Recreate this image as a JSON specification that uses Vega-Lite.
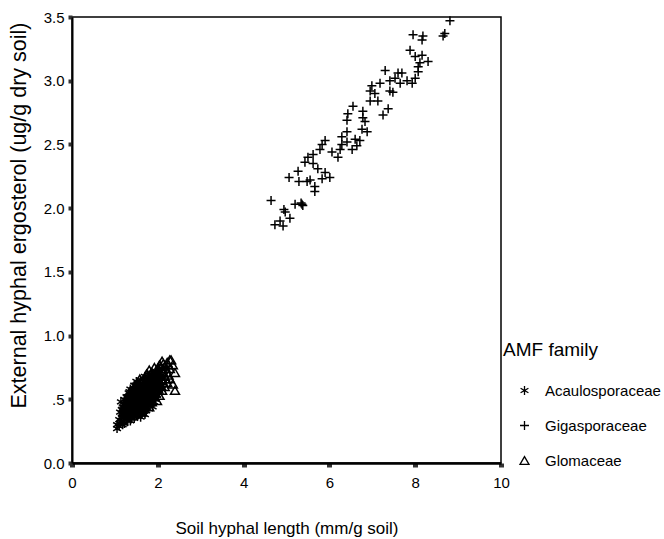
{
  "$schema": "https://vega.github.io/schema/vega-lite/v6.json",
  "autosize": {"type": "none"},
  "padding": {"left": 72, "top": 17, "right": 163, "bottom": 76},
  "width": 429,
  "height": 446,
  "background": "white",
  "config": {
    "font": "Liberation Sans",
    "view": {"stroke": "black", "strokeWidth": 1.5},
    "axis": {"grid": false, "labelFont": "Liberation Sans", "titleFont": "Liberation Sans", "labelFontSize": 15, "titleFontSize": 17, "titleFontWeight": "normal", "labelColor": "black", "titleColor": "black", "domainColor": "black", "tickColor": "#333"}
  },
  "datasets": {
    "pts": [
      {"family": "Gigasporaceae", "length": 4.64, "ergosterol": 2.06},
      {"family": "Gigasporaceae", "length": 4.94, "ergosterol": 1.99},
      {"family": "Gigasporaceae", "length": 4.97, "ergosterol": 1.97},
      {"family": "Gigasporaceae", "length": 5.08, "ergosterol": 1.92},
      {"family": "Gigasporaceae", "length": 4.73, "ergosterol": 1.87},
      {"family": "Gigasporaceae", "length": 4.85, "ergosterol": 1.9},
      {"family": "Gigasporaceae", "length": 4.92, "ergosterol": 1.86},
      {"family": "Gigasporaceae", "length": 5.36, "ergosterol": 2.03},
      {"family": "Gigasporaceae", "length": 5.38, "ergosterol": 2.02},
      {"family": "Gigasporaceae", "length": 5.34, "ergosterol": 2.04},
      {"family": "Gigasporaceae", "length": 5.06, "ergosterol": 2.24},
      {"family": "Gigasporaceae", "length": 5.27, "ergosterol": 2.29},
      {"family": "Gigasporaceae", "length": 5.29, "ergosterol": 2.21},
      {"family": "Gigasporaceae", "length": 5.48, "ergosterol": 2.21},
      {"family": "Gigasporaceae", "length": 5.55, "ergosterol": 2.22},
      {"family": "Gigasporaceae", "length": 5.66, "ergosterol": 2.17},
      {"family": "Gigasporaceae", "length": 5.66, "ergosterol": 2.13},
      {"family": "Gigasporaceae", "length": 5.83, "ergosterol": 2.23},
      {"family": "Gigasporaceae", "length": 5.9, "ergosterol": 2.28},
      {"family": "Gigasporaceae", "length": 6.01, "ergosterol": 2.24},
      {"family": "Gigasporaceae", "length": 5.43, "ergosterol": 2.36},
      {"family": "Gigasporaceae", "length": 5.5, "ergosterol": 2.4},
      {"family": "Gigasporaceae", "length": 5.62, "ergosterol": 2.42},
      {"family": "Gigasporaceae", "length": 5.62, "ergosterol": 2.35},
      {"family": "Gigasporaceae", "length": 5.78, "ergosterol": 2.46},
      {"family": "Gigasporaceae", "length": 5.83, "ergosterol": 2.5},
      {"family": "Gigasporaceae", "length": 6.06, "ergosterol": 2.44},
      {"family": "Gigasporaceae", "length": 6.2, "ergosterol": 2.4},
      {"family": "Gigasporaceae", "length": 6.29, "ergosterol": 2.5},
      {"family": "Gigasporaceae", "length": 6.41, "ergosterol": 2.52},
      {"family": "Gigasporaceae", "length": 6.53, "ergosterol": 2.46},
      {"family": "Gigasporaceae", "length": 6.64, "ergosterol": 2.49},
      {"family": "Gigasporaceae", "length": 6.71, "ergosterol": 2.53},
      {"family": "Gigasporaceae", "length": 5.9, "ergosterol": 2.53},
      {"family": "Gigasporaceae", "length": 6.29, "ergosterol": 2.56},
      {"family": "Gigasporaceae", "length": 6.41, "ergosterol": 2.6},
      {"family": "Gigasporaceae", "length": 6.76, "ergosterol": 2.62},
      {"family": "Gigasporaceae", "length": 6.88, "ergosterol": 2.6},
      {"family": "Gigasporaceae", "length": 6.83, "ergosterol": 2.68},
      {"family": "Gigasporaceae", "length": 6.41, "ergosterol": 2.69},
      {"family": "Gigasporaceae", "length": 6.43, "ergosterol": 2.74},
      {"family": "Gigasporaceae", "length": 6.55, "ergosterol": 2.8},
      {"family": "Gigasporaceae", "length": 6.78, "ergosterol": 2.76},
      {"family": "Gigasporaceae", "length": 6.95, "ergosterol": 2.84},
      {"family": "Gigasporaceae", "length": 7.13, "ergosterol": 2.84},
      {"family": "Gigasporaceae", "length": 7.37, "ergosterol": 2.78},
      {"family": "Gigasporaceae", "length": 7.25, "ergosterol": 2.73},
      {"family": "Gigasporaceae", "length": 6.95, "ergosterol": 2.92},
      {"family": "Gigasporaceae", "length": 6.99, "ergosterol": 2.96},
      {"family": "Gigasporaceae", "length": 7.18, "ergosterol": 2.98},
      {"family": "Gigasporaceae", "length": 7.41, "ergosterol": 2.92},
      {"family": "Gigasporaceae", "length": 7.41, "ergosterol": 3.0},
      {"family": "Gigasporaceae", "length": 7.65, "ergosterol": 2.98},
      {"family": "Gigasporaceae", "length": 7.81, "ergosterol": 3.0},
      {"family": "Gigasporaceae", "length": 7.3, "ergosterol": 3.08},
      {"family": "Gigasporaceae", "length": 7.6, "ergosterol": 3.06},
      {"family": "Gigasporaceae", "length": 7.93, "ergosterol": 2.98},
      {"family": "Gigasporaceae", "length": 8.0, "ergosterol": 3.02},
      {"family": "Gigasporaceae", "length": 8.07, "ergosterol": 3.07},
      {"family": "Gigasporaceae", "length": 8.07, "ergosterol": 3.11},
      {"family": "Gigasporaceae", "length": 8.0, "ergosterol": 3.19},
      {"family": "Gigasporaceae", "length": 8.16, "ergosterol": 3.2},
      {"family": "Gigasporaceae", "length": 8.3, "ergosterol": 3.15},
      {"family": "Gigasporaceae", "length": 7.88, "ergosterol": 3.24},
      {"family": "Gigasporaceae", "length": 7.48, "ergosterol": 2.91},
      {"family": "Gigasporaceae", "length": 6.78, "ergosterol": 2.71},
      {"family": "Gigasporaceae", "length": 8.81, "ergosterol": 3.47},
      {"family": "Gigasporaceae", "length": 8.69, "ergosterol": 3.37},
      {"family": "Gigasporaceae", "length": 8.65, "ergosterol": 3.35},
      {"family": "Gigasporaceae", "length": 7.95, "ergosterol": 3.36},
      {"family": "Gigasporaceae", "length": 8.18, "ergosterol": 3.35},
      {"family": "Gigasporaceae", "length": 8.16, "ergosterol": 3.32},
      {"family": "Gigasporaceae", "length": 7.69, "ergosterol": 3.06},
      {"family": "Gigasporaceae", "length": 6.25, "ergosterol": 2.46},
      {"family": "Gigasporaceae", "length": 6.6, "ergosterol": 2.54},
      {"family": "Gigasporaceae", "length": 5.73, "ergosterol": 2.31},
      {"family": "Gigasporaceae", "length": 5.2, "ergosterol": 2.03},
      {"family": "Gigasporaceae", "length": 7.06, "ergosterol": 2.9},
      {"family": "Gigasporaceae", "length": 7.53, "ergosterol": 3.02},
      {"family": "Gigasporaceae", "length": 8.11, "ergosterol": 3.14},

      {"family": "Acaulosporaceae", "length": 1.05, "ergosterol": 0.27},
      {"family": "Acaulosporaceae", "length": 1.05, "ergosterol": 0.3},
      {"family": "Acaulosporaceae", "length": 1.1, "ergosterol": 0.29},
      {"family": "Acaulosporaceae", "length": 1.1, "ergosterol": 0.34},
      {"family": "Acaulosporaceae", "length": 1.14, "ergosterol": 0.48},
      {"family": "Acaulosporaceae", "length": 1.14, "ergosterol": 0.33},
      {"family": "Acaulosporaceae", "length": 1.18, "ergosterol": 0.3},
      {"family": "Acaulosporaceae", "length": 1.18, "ergosterol": 0.38},
      {"family": "Acaulosporaceae", "length": 1.18, "ergosterol": 0.44},
      {"family": "Acaulosporaceae", "length": 1.22, "ergosterol": 0.36},
      {"family": "Acaulosporaceae", "length": 1.22, "ergosterol": 0.42},
      {"family": "Acaulosporaceae", "length": 1.22, "ergosterol": 0.5},
      {"family": "Acaulosporaceae", "length": 1.22, "ergosterol": 0.31},
      {"family": "Acaulosporaceae", "length": 1.27, "ergosterol": 0.34},
      {"family": "Acaulosporaceae", "length": 1.27, "ergosterol": 0.4},
      {"family": "Acaulosporaceae", "length": 1.27, "ergosterol": 0.46},
      {"family": "Acaulosporaceae", "length": 1.27, "ergosterol": 0.52},
      {"family": "Acaulosporaceae", "length": 1.32, "ergosterol": 0.36},
      {"family": "Acaulosporaceae", "length": 1.32, "ergosterol": 0.43},
      {"family": "Acaulosporaceae", "length": 1.32, "ergosterol": 0.49},
      {"family": "Acaulosporaceae", "length": 1.32, "ergosterol": 0.55},
      {"family": "Acaulosporaceae", "length": 1.36, "ergosterol": 0.33},
      {"family": "Acaulosporaceae", "length": 1.36, "ergosterol": 0.4},
      {"family": "Acaulosporaceae", "length": 1.36, "ergosterol": 0.47},
      {"family": "Acaulosporaceae", "length": 1.36, "ergosterol": 0.53},
      {"family": "Acaulosporaceae", "length": 1.36, "ergosterol": 0.58},
      {"family": "Acaulosporaceae", "length": 1.41, "ergosterol": 0.38},
      {"family": "Acaulosporaceae", "length": 1.41, "ergosterol": 0.45},
      {"family": "Acaulosporaceae", "length": 1.41, "ergosterol": 0.51},
      {"family": "Acaulosporaceae", "length": 1.41, "ergosterol": 0.57},
      {"family": "Acaulosporaceae", "length": 1.45, "ergosterol": 0.35},
      {"family": "Acaulosporaceae", "length": 1.45, "ergosterol": 0.42},
      {"family": "Acaulosporaceae", "length": 1.45, "ergosterol": 0.48},
      {"family": "Acaulosporaceae", "length": 1.45, "ergosterol": 0.55},
      {"family": "Acaulosporaceae", "length": 1.45, "ergosterol": 0.61},
      {"family": "Acaulosporaceae", "length": 1.5, "ergosterol": 0.37},
      {"family": "Acaulosporaceae", "length": 1.5, "ergosterol": 0.44},
      {"family": "Acaulosporaceae", "length": 1.5, "ergosterol": 0.51},
      {"family": "Acaulosporaceae", "length": 1.5, "ergosterol": 0.58},
      {"family": "Acaulosporaceae", "length": 1.5, "ergosterol": 0.64},
      {"family": "Acaulosporaceae", "length": 1.55, "ergosterol": 0.4},
      {"family": "Acaulosporaceae", "length": 1.55, "ergosterol": 0.47},
      {"family": "Acaulosporaceae", "length": 1.55, "ergosterol": 0.54},
      {"family": "Acaulosporaceae", "length": 1.55, "ergosterol": 0.61},
      {"family": "Acaulosporaceae", "length": 1.6, "ergosterol": 0.36},
      {"family": "Acaulosporaceae", "length": 1.6, "ergosterol": 0.43},
      {"family": "Acaulosporaceae", "length": 1.6, "ergosterol": 0.5},
      {"family": "Acaulosporaceae", "length": 1.6, "ergosterol": 0.57},
      {"family": "Acaulosporaceae", "length": 1.6, "ergosterol": 0.65},
      {"family": "Acaulosporaceae", "length": 1.65, "ergosterol": 0.41},
      {"family": "Acaulosporaceae", "length": 1.65, "ergosterol": 0.48},
      {"family": "Acaulosporaceae", "length": 1.65, "ergosterol": 0.55},
      {"family": "Acaulosporaceae", "length": 1.65, "ergosterol": 0.62},
      {"family": "Acaulosporaceae", "length": 1.7, "ergosterol": 0.38},
      {"family": "Acaulosporaceae", "length": 1.7, "ergosterol": 0.45},
      {"family": "Acaulosporaceae", "length": 1.7, "ergosterol": 0.52},
      {"family": "Acaulosporaceae", "length": 1.7, "ergosterol": 0.6},
      {"family": "Acaulosporaceae", "length": 1.7, "ergosterol": 0.68},
      {"family": "Acaulosporaceae", "length": 1.76, "ergosterol": 0.43},
      {"family": "Acaulosporaceae", "length": 1.76, "ergosterol": 0.5},
      {"family": "Acaulosporaceae", "length": 1.76, "ergosterol": 0.57},
      {"family": "Acaulosporaceae", "length": 1.76, "ergosterol": 0.64},
      {"family": "Acaulosporaceae", "length": 1.82, "ergosterol": 0.47},
      {"family": "Acaulosporaceae", "length": 1.82, "ergosterol": 0.54},
      {"family": "Acaulosporaceae", "length": 1.82, "ergosterol": 0.61},
      {"family": "Acaulosporaceae", "length": 1.82, "ergosterol": 0.69},
      {"family": "Acaulosporaceae", "length": 1.88, "ergosterol": 0.44},
      {"family": "Acaulosporaceae", "length": 1.88, "ergosterol": 0.52},
      {"family": "Acaulosporaceae", "length": 1.88, "ergosterol": 0.59},
      {"family": "Acaulosporaceae", "length": 1.88, "ergosterol": 0.66},
      {"family": "Acaulosporaceae", "length": 1.95, "ergosterol": 0.5},
      {"family": "Acaulosporaceae", "length": 1.95, "ergosterol": 0.57},
      {"family": "Acaulosporaceae", "length": 1.95, "ergosterol": 0.64},
      {"family": "Acaulosporaceae", "length": 1.95, "ergosterol": 0.72},
      {"family": "Acaulosporaceae", "length": 2.02, "ergosterol": 0.55},
      {"family": "Acaulosporaceae", "length": 2.02, "ergosterol": 0.62},
      {"family": "Acaulosporaceae", "length": 2.02, "ergosterol": 0.7},
      {"family": "Acaulosporaceae", "length": 2.1, "ergosterol": 0.58},
      {"family": "Acaulosporaceae", "length": 2.1, "ergosterol": 0.66},
      {"family": "Acaulosporaceae", "length": 2.1, "ergosterol": 0.74},
      {"family": "Acaulosporaceae", "length": 1.12, "ergosterol": 0.31},
      {"family": "Acaulosporaceae", "length": 1.12, "ergosterol": 0.4},
      {"family": "Acaulosporaceae", "length": 1.16, "ergosterol": 0.36},
      {"family": "Acaulosporaceae", "length": 1.16, "ergosterol": 0.42},
      {"family": "Acaulosporaceae", "length": 1.2, "ergosterol": 0.33},
      {"family": "Acaulosporaceae", "length": 1.2, "ergosterol": 0.39},
      {"family": "Acaulosporaceae", "length": 1.2, "ergosterol": 0.46},
      {"family": "Acaulosporaceae", "length": 1.25, "ergosterol": 0.37},
      {"family": "Acaulosporaceae", "length": 1.25, "ergosterol": 0.43},
      {"family": "Acaulosporaceae", "length": 1.25, "ergosterol": 0.49},
      {"family": "Acaulosporaceae", "length": 1.3, "ergosterol": 0.33},
      {"family": "Acaulosporaceae", "length": 1.3, "ergosterol": 0.39},
      {"family": "Acaulosporaceae", "length": 1.3, "ergosterol": 0.46},
      {"family": "Acaulosporaceae", "length": 1.3, "ergosterol": 0.52},
      {"family": "Acaulosporaceae", "length": 1.34, "ergosterol": 0.37},
      {"family": "Acaulosporaceae", "length": 1.34, "ergosterol": 0.44},
      {"family": "Acaulosporaceae", "length": 1.34, "ergosterol": 0.5},
      {"family": "Acaulosporaceae", "length": 1.34, "ergosterol": 0.56},
      {"family": "Acaulosporaceae", "length": 1.39, "ergosterol": 0.35},
      {"family": "Acaulosporaceae", "length": 1.39, "ergosterol": 0.42},
      {"family": "Acaulosporaceae", "length": 1.39, "ergosterol": 0.48},
      {"family": "Acaulosporaceae", "length": 1.39, "ergosterol": 0.54},
      {"family": "Acaulosporaceae", "length": 1.43, "ergosterol": 0.39},
      {"family": "Acaulosporaceae", "length": 1.43, "ergosterol": 0.45},
      {"family": "Acaulosporaceae", "length": 1.43, "ergosterol": 0.52},
      {"family": "Acaulosporaceae", "length": 1.43, "ergosterol": 0.58},
      {"family": "Acaulosporaceae", "length": 1.48, "ergosterol": 0.4},
      {"family": "Acaulosporaceae", "length": 1.48, "ergosterol": 0.47},
      {"family": "Acaulosporaceae", "length": 1.48, "ergosterol": 0.54},
      {"family": "Acaulosporaceae", "length": 1.48, "ergosterol": 0.61},
      {"family": "Acaulosporaceae", "length": 1.53, "ergosterol": 0.37},
      {"family": "Acaulosporaceae", "length": 1.53, "ergosterol": 0.44},
      {"family": "Acaulosporaceae", "length": 1.53, "ergosterol": 0.51},
      {"family": "Acaulosporaceae", "length": 1.53, "ergosterol": 0.58},
      {"family": "Acaulosporaceae", "length": 1.58, "ergosterol": 0.4},
      {"family": "Acaulosporaceae", "length": 1.58, "ergosterol": 0.47},
      {"family": "Acaulosporaceae", "length": 1.58, "ergosterol": 0.54},
      {"family": "Acaulosporaceae", "length": 1.58, "ergosterol": 0.61},
      {"family": "Acaulosporaceae", "length": 1.63, "ergosterol": 0.38},
      {"family": "Acaulosporaceae", "length": 1.63, "ergosterol": 0.45},
      {"family": "Acaulosporaceae", "length": 1.63, "ergosterol": 0.52},
      {"family": "Acaulosporaceae", "length": 1.63, "ergosterol": 0.59},
      {"family": "Acaulosporaceae", "length": 1.68, "ergosterol": 0.42},
      {"family": "Acaulosporaceae", "length": 1.68, "ergosterol": 0.49},
      {"family": "Acaulosporaceae", "length": 1.68, "ergosterol": 0.56},
      {"family": "Acaulosporaceae", "length": 1.68, "ergosterol": 0.64},
      {"family": "Acaulosporaceae", "length": 1.73, "ergosterol": 0.41},
      {"family": "Acaulosporaceae", "length": 1.73, "ergosterol": 0.48},
      {"family": "Acaulosporaceae", "length": 1.73, "ergosterol": 0.55},
      {"family": "Acaulosporaceae", "length": 1.73, "ergosterol": 0.62},
      {"family": "Acaulosporaceae", "length": 1.79, "ergosterol": 0.45},
      {"family": "Acaulosporaceae", "length": 1.79, "ergosterol": 0.52},
      {"family": "Acaulosporaceae", "length": 1.79, "ergosterol": 0.59},
      {"family": "Acaulosporaceae", "length": 1.79, "ergosterol": 0.66},
      {"family": "Acaulosporaceae", "length": 1.85, "ergosterol": 0.49},
      {"family": "Acaulosporaceae", "length": 1.85, "ergosterol": 0.56},
      {"family": "Acaulosporaceae", "length": 1.85, "ergosterol": 0.63},
      {"family": "Acaulosporaceae", "length": 1.91, "ergosterol": 0.48},
      {"family": "Acaulosporaceae", "length": 1.91, "ergosterol": 0.55},
      {"family": "Acaulosporaceae", "length": 1.91, "ergosterol": 0.62},
      {"family": "Acaulosporaceae", "length": 1.91, "ergosterol": 0.69},
      {"family": "Acaulosporaceae", "length": 1.98, "ergosterol": 0.53},
      {"family": "Acaulosporaceae", "length": 1.98, "ergosterol": 0.6},
      {"family": "Acaulosporaceae", "length": 1.98, "ergosterol": 0.67},
      {"family": "Acaulosporaceae", "length": 2.06, "ergosterol": 0.6},
      {"family": "Acaulosporaceae", "length": 2.06, "ergosterol": 0.68},

      {"family": "Glomaceae", "length": 1.2, "ergosterol": 0.4},
      {"family": "Glomaceae", "length": 1.25, "ergosterol": 0.38},
      {"family": "Glomaceae", "length": 1.25, "ergosterol": 0.45},
      {"family": "Glomaceae", "length": 1.3, "ergosterol": 0.41},
      {"family": "Glomaceae", "length": 1.3, "ergosterol": 0.48},
      {"family": "Glomaceae", "length": 1.35, "ergosterol": 0.37},
      {"family": "Glomaceae", "length": 1.35, "ergosterol": 0.45},
      {"family": "Glomaceae", "length": 1.35, "ergosterol": 0.52},
      {"family": "Glomaceae", "length": 1.4, "ergosterol": 0.42},
      {"family": "Glomaceae", "length": 1.4, "ergosterol": 0.49},
      {"family": "Glomaceae", "length": 1.4, "ergosterol": 0.56},
      {"family": "Glomaceae", "length": 1.46, "ergosterol": 0.39},
      {"family": "Glomaceae", "length": 1.46, "ergosterol": 0.46},
      {"family": "Glomaceae", "length": 1.46, "ergosterol": 0.53},
      {"family": "Glomaceae", "length": 1.46, "ergosterol": 0.59},
      {"family": "Glomaceae", "length": 1.52, "ergosterol": 0.41},
      {"family": "Glomaceae", "length": 1.52, "ergosterol": 0.49},
      {"family": "Glomaceae", "length": 1.52, "ergosterol": 0.56},
      {"family": "Glomaceae", "length": 1.52, "ergosterol": 0.62},
      {"family": "Glomaceae", "length": 1.58, "ergosterol": 0.45},
      {"family": "Glomaceae", "length": 1.58, "ergosterol": 0.52},
      {"family": "Glomaceae", "length": 1.58, "ergosterol": 0.59},
      {"family": "Glomaceae", "length": 1.58, "ergosterol": 0.66},
      {"family": "Glomaceae", "length": 1.63, "ergosterol": 0.4},
      {"family": "Glomaceae", "length": 1.63, "ergosterol": 0.48},
      {"family": "Glomaceae", "length": 1.63, "ergosterol": 0.55},
      {"family": "Glomaceae", "length": 1.63, "ergosterol": 0.63},
      {"family": "Glomaceae", "length": 1.68, "ergosterol": 0.44},
      {"family": "Glomaceae", "length": 1.68, "ergosterol": 0.51},
      {"family": "Glomaceae", "length": 1.68, "ergosterol": 0.58},
      {"family": "Glomaceae", "length": 1.68, "ergosterol": 0.66},
      {"family": "Glomaceae", "length": 1.74, "ergosterol": 0.47},
      {"family": "Glomaceae", "length": 1.74, "ergosterol": 0.55},
      {"family": "Glomaceae", "length": 1.74, "ergosterol": 0.62},
      {"family": "Glomaceae", "length": 1.74, "ergosterol": 0.7},
      {"family": "Glomaceae", "length": 1.8, "ergosterol": 0.44},
      {"family": "Glomaceae", "length": 1.8, "ergosterol": 0.51},
      {"family": "Glomaceae", "length": 1.8, "ergosterol": 0.58},
      {"family": "Glomaceae", "length": 1.8, "ergosterol": 0.66},
      {"family": "Glomaceae", "length": 1.8, "ergosterol": 0.73},
      {"family": "Glomaceae", "length": 1.86, "ergosterol": 0.48},
      {"family": "Glomaceae", "length": 1.86, "ergosterol": 0.56},
      {"family": "Glomaceae", "length": 1.86, "ergosterol": 0.63},
      {"family": "Glomaceae", "length": 1.86, "ergosterol": 0.71},
      {"family": "Glomaceae", "length": 1.92, "ergosterol": 0.52},
      {"family": "Glomaceae", "length": 1.92, "ergosterol": 0.6},
      {"family": "Glomaceae", "length": 1.92, "ergosterol": 0.67},
      {"family": "Glomaceae", "length": 1.92, "ergosterol": 0.75},
      {"family": "Glomaceae", "length": 1.98, "ergosterol": 0.49},
      {"family": "Glomaceae", "length": 1.98, "ergosterol": 0.57},
      {"family": "Glomaceae", "length": 1.98, "ergosterol": 0.64},
      {"family": "Glomaceae", "length": 1.98, "ergosterol": 0.72},
      {"family": "Glomaceae", "length": 2.04, "ergosterol": 0.53},
      {"family": "Glomaceae", "length": 2.04, "ergosterol": 0.61},
      {"family": "Glomaceae", "length": 2.04, "ergosterol": 0.69},
      {"family": "Glomaceae", "length": 2.04, "ergosterol": 0.77},
      {"family": "Glomaceae", "length": 2.1, "ergosterol": 0.57},
      {"family": "Glomaceae", "length": 2.1, "ergosterol": 0.65},
      {"family": "Glomaceae", "length": 2.1, "ergosterol": 0.72},
      {"family": "Glomaceae", "length": 2.1, "ergosterol": 0.8},
      {"family": "Glomaceae", "length": 2.16, "ergosterol": 0.6},
      {"family": "Glomaceae", "length": 2.16, "ergosterol": 0.68},
      {"family": "Glomaceae", "length": 2.16, "ergosterol": 0.76},
      {"family": "Glomaceae", "length": 2.22, "ergosterol": 0.63},
      {"family": "Glomaceae", "length": 2.22, "ergosterol": 0.71},
      {"family": "Glomaceae", "length": 2.22, "ergosterol": 0.79},
      {"family": "Glomaceae", "length": 2.28, "ergosterol": 0.66},
      {"family": "Glomaceae", "length": 2.28, "ergosterol": 0.74},
      {"family": "Glomaceae", "length": 2.28, "ergosterol": 0.81},
      {"family": "Glomaceae", "length": 2.31, "ergosterol": 0.81},
      {"family": "Glomaceae", "length": 2.4, "ergosterol": 0.71},
      {"family": "Glomaceae", "length": 2.4, "ergosterol": 0.57},
      {"family": "Glomaceae", "length": 2.35, "ergosterol": 0.62},
      {"family": "Glomaceae", "length": 2.35, "ergosterol": 0.77},
      {"family": "Glomaceae", "length": 1.28, "ergosterol": 0.44},
      {"family": "Glomaceae", "length": 1.33, "ergosterol": 0.41},
      {"family": "Glomaceae", "length": 1.33, "ergosterol": 0.5},
      {"family": "Glomaceae", "length": 1.38, "ergosterol": 0.46},
      {"family": "Glomaceae", "length": 1.38, "ergosterol": 0.53},
      {"family": "Glomaceae", "length": 1.43, "ergosterol": 0.43},
      {"family": "Glomaceae", "length": 1.43, "ergosterol": 0.5},
      {"family": "Glomaceae", "length": 1.43, "ergosterol": 0.57},
      {"family": "Glomaceae", "length": 1.49, "ergosterol": 0.44},
      {"family": "Glomaceae", "length": 1.49, "ergosterol": 0.52},
      {"family": "Glomaceae", "length": 1.49, "ergosterol": 0.59},
      {"family": "Glomaceae", "length": 1.55, "ergosterol": 0.47},
      {"family": "Glomaceae", "length": 1.55, "ergosterol": 0.54},
      {"family": "Glomaceae", "length": 1.55, "ergosterol": 0.61},
      {"family": "Glomaceae", "length": 1.6, "ergosterol": 0.44},
      {"family": "Glomaceae", "length": 1.6, "ergosterol": 0.51},
      {"family": "Glomaceae", "length": 1.6, "ergosterol": 0.58},
      {"family": "Glomaceae", "length": 1.6, "ergosterol": 0.64},
      {"family": "Glomaceae", "length": 1.66, "ergosterol": 0.47},
      {"family": "Glomaceae", "length": 1.66, "ergosterol": 0.54},
      {"family": "Glomaceae", "length": 1.66, "ergosterol": 0.61},
      {"family": "Glomaceae", "length": 1.71, "ergosterol": 0.5},
      {"family": "Glomaceae", "length": 1.71, "ergosterol": 0.58},
      {"family": "Glomaceae", "length": 1.71, "ergosterol": 0.65},
      {"family": "Glomaceae", "length": 1.77, "ergosterol": 0.48},
      {"family": "Glomaceae", "length": 1.77, "ergosterol": 0.55},
      {"family": "Glomaceae", "length": 1.77, "ergosterol": 0.62},
      {"family": "Glomaceae", "length": 1.77, "ergosterol": 0.69},
      {"family": "Glomaceae", "length": 1.83, "ergosterol": 0.51},
      {"family": "Glomaceae", "length": 1.83, "ergosterol": 0.59},
      {"family": "Glomaceae", "length": 1.83, "ergosterol": 0.67},
      {"family": "Glomaceae", "length": 1.89, "ergosterol": 0.54},
      {"family": "Glomaceae", "length": 1.89, "ergosterol": 0.62},
      {"family": "Glomaceae", "length": 1.89, "ergosterol": 0.7},
      {"family": "Glomaceae", "length": 1.95, "ergosterol": 0.55},
      {"family": "Glomaceae", "length": 1.95, "ergosterol": 0.63},
      {"family": "Glomaceae", "length": 1.95, "ergosterol": 0.71},
      {"family": "Glomaceae", "length": 2.01, "ergosterol": 0.58},
      {"family": "Glomaceae", "length": 2.01, "ergosterol": 0.66},
      {"family": "Glomaceae", "length": 2.01, "ergosterol": 0.74},
      {"family": "Glomaceae", "length": 2.07, "ergosterol": 0.61},
      {"family": "Glomaceae", "length": 2.07, "ergosterol": 0.69},
      {"family": "Glomaceae", "length": 2.07, "ergosterol": 0.76},
      {"family": "Glomaceae", "length": 2.13, "ergosterol": 0.63},
      {"family": "Glomaceae", "length": 2.13, "ergosterol": 0.71},
      {"family": "Glomaceae", "length": 2.13, "ergosterol": 0.78},
      {"family": "Glomaceae", "length": 2.19, "ergosterol": 0.66},
      {"family": "Glomaceae", "length": 2.19, "ergosterol": 0.74},
      {"family": "Glomaceae", "length": 2.25, "ergosterol": 0.69},
      {"family": "Glomaceae", "length": 2.25, "ergosterol": 0.77}
    ]
  },
  "data": {"name": "pts"},
  "mark": {"type": "point", "filled": false, "color": "black", "strokeWidth": 1.5, "opacity": 1, "size": 81},
  "encoding": {
    "x": {
      "field": "length", "type": "quantitative",
      "scale": {"domain": [0, 10], "nice": false, "zero": false},
      "axis": {"values": [0, 2, 4, 6, 8, 10], "title": "Soil hyphal length (mm/g soil)", "domainWidth": 2.5, "tickSize": 4, "tickWidth": 5, "labelPadding": 8, "labelFlush": false,
        "titleY": 70, "titleBaseline": "alphabetic", "titleAlign": "center"}
    },
    "y": {
      "field": "ergosterol", "type": "quantitative",
      "scale": {"domain": [0, 3.5], "nice": false},
      "axis": {"values": [0, 0.5, 1, 1.5, 2, 2.5, 3, 3.5], "title": "External hyphal ergosterol (ug/g dry soil)", "domainWidth": 2, "tickSize": 4, "tickWidth": 4, "labelPadding": 4, "labelFlush": false,
        "labelExpr": "datum.value == 0 ? '0.0' : datum.value == 0.5 ? '.5' : format(datum.value, '.1f')",
        "titleFontSize": 21.5, "titleX": -53, "titleY": 198, "titleAngle": 270, "titleAlign": "center", "titleBaseline": "middle"}
    },
    "shape": {
      "field": "family", "type": "nominal",
      "scale": {"domain": ["Acaulosporaceae", "Gigasporaceae", "Glomaceae"], "range": ["M0,-1L0,1M-0.87,-0.5L0.87,0.5M-0.87,0.5L0.87,-0.5", "M-1,0L1,0M0,-1L0,1", "triangle-up"]},
      "legend": {"title": "AMF family", "orient": "none", "legendX": 431, "legendY": 324, "titleFontSize": 19, "titleFontWeight": "normal", "titleColor": "black", "titleFont": "Liberation Sans", "titlePadding": 23, "labelFont": "Liberation Sans", "labelFontSize": 15, "labelColor": "black", "symbolSize": 81, "symbolStrokeColor": "black", "symbolFillColor": "transparent", "symbolStrokeWidth": 1.3, "symbolOffset": 14, "labelOffset": 13, "rowPadding": 19, "padding": 0}
    }
  }
}
